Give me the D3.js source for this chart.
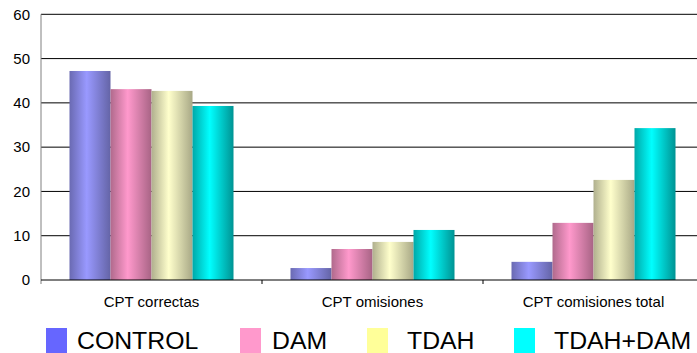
<!DOCTYPE html>
<html>
<head>
<meta charset="utf-8">
<script src="https://cdn.jsdelivr.net/npm/d3@7"></script>
<style>
  html, body { margin: 0; padding: 0; background: #fff; }
  svg { display: block; font-family: "Liberation Sans", Arial, sans-serif; }
</style>
</head>
<body>
<svg id="chart" width="697" height="353"></svg>
<script>
// Categories, series and values
const categories = ["CPT correctas", "CPT omisiones", "CPT comisiones total"];
const series = ["CONTROL", "DAM", "TDAH", "TDAH+DAM"];
const control = [47.2, 2.7, 4.1];
const dam = [43.1, 7.0, 12.9];
const tdah = [42.7, 8.6, 22.6];
const tdahDam = [39.3, 11.3, 34.3];
const yTicks = [0, 10, 20, 30, 40, 50, 60];

const values = [control, dam, tdah, tdahDam];

// Per-series colours: legend swatch, bar highlight, bar shaded edges
const swatch = ["#6666ff", "#ff99cc", "#ffff99", "#00ffff"];
const light = ["#9999ff", "#ff99cc", "#ffffcc", "#00ffff"];
const darkL = ["#6a6ab2", "#b06a8c", "#b0b08e", "#00a8a8"];
const darkR = ["#6464a6", "#a86485", "#a8a886", "#009393"];

const svg = d3.select("#chart");

const plotLeft = 41, plotTop = 14.3, plotBottom = 280, plotRight = 704;

const x0 = d3.scaleBand().domain(categories).range([plotLeft, plotRight]).paddingInner(0).paddingOuter(0);
const x1 = d3.scaleBand().domain(series).range([0, x0.bandwidth()]).paddingInner(0).paddingOuter(0.695);
const y = d3.scaleLinear().domain([0, 60]).range([plotBottom, plotTop]);

// Horizontal gradients for the bars
const defs = svg.append("defs");
series.forEach((s, i) => {
  const g = defs.append("linearGradient")
    .attr("id", "grad" + i)
    .attr("x1", "0%").attr("x2", "100%").attr("y1", "0%").attr("y2", "0%");
  g.append("stop").attr("offset", "0%").attr("stop-color", darkL[i]);
  g.append("stop").attr("offset", "42%").attr("stop-color", light[i]);
  g.append("stop").attr("offset", "100%").attr("stop-color", darkR[i]);
});

// Gridlines
svg.append("g")
  .selectAll("line")
  .data(yTicks.filter(t => t > 0))
  .join("line")
  .attr("x1", plotLeft).attr("x2", 697)
  .attr("y1", d => y(d)).attr("y2", d => y(d))
  .attr("stroke", "#000").attr("stroke-width", 1);

// Bars
const groups = svg.append("g")
  .selectAll("g")
  .data(categories)
  .join("g")
  .attr("transform", d => `translate(${x0(d)},0)`);

groups.selectAll("rect")
  .data((c, ci) => series.map((s, si) => ({ s, si, v: values[si][ci] })))
  .join("rect")
  .attr("x", d => x1(d.s))
  .attr("width", x1.bandwidth())
  .attr("y", d => y(d.v))
  .attr("height", d => y(0) - y(d.v))
  .attr("fill", d => `url(#grad${d.si})`);

// Y axis line and labels
svg.append("line")
  .attr("x1", plotLeft).attr("x2", plotLeft)
  .attr("y1", plotTop).attr("y2", plotBottom + 4)
  .attr("stroke", "#808080").attr("stroke-width", 1);

svg.append("g")
  .selectAll("text")
  .data(yTicks)
  .join("text")
  .attr("x", 30)
  .attr("y", d => y(d))
  .attr("dy", "0.35em")
  .attr("text-anchor", "end")
  .attr("font-size", 15)
  .attr("fill", "#000")
  .text(d => d);

// X axis baseline and category ticks
svg.append("line")
  .attr("x1", plotLeft).attr("x2", 697)
  .attr("y1", plotBottom).attr("y2", plotBottom)
  .attr("stroke", "#000").attr("stroke-width", 1);

svg.append("g")
  .selectAll("line")
  .data(categories.slice(1))
  .join("line")
  .attr("x1", d => x0(d)).attr("x2", d => x0(d))
  .attr("y1", plotBottom).attr("y2", plotBottom + 4)
  .attr("stroke", "#000");

svg.append("g")
  .selectAll("text")
  .data(categories)
  .join("text")
  .attr("x", d => x0(d) + x0.bandwidth() / 2)
  .attr("y", 307)
  .attr("text-anchor", "middle")
  .attr("font-size", 15)
  .attr("fill", "#000")
  .text(d => d);

// Legend
const legendX = [46, 240, 367, 514];
const legend = svg.append("g")
  .selectAll("g")
  .data(series)
  .join("g")
  .attr("transform", (d, i) => `translate(${legendX[i]},0)`);

legend.append("rect")
  .attr("x", 0).attr("y", 328)
  .attr("width", 21).attr("height", 25)
  .attr("fill", (d, i) => swatch[i]);

legend.append("text")
  .attr("x", (d, i) => [31, 32, 40, 40][i])
  .attr("y", 349)
  .attr("font-size", 24.8)
  .attr("fill", "#000")
  .text(d => d);
</script>
</body>
</html>
